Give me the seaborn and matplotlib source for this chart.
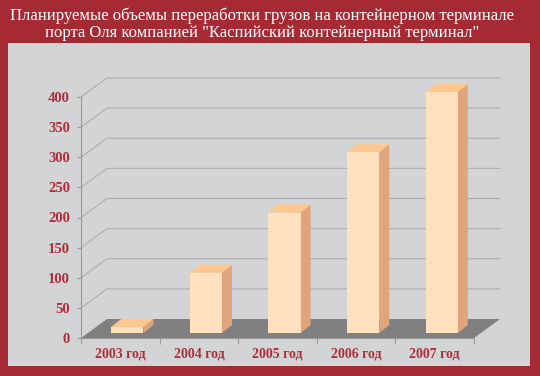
import matplotlib
matplotlib.use("Agg")
import matplotlib.pyplot as plt
import matplotlib.transforms as mtransforms
from matplotlib.patches import Polygon, Rectangle
import seaborn as sns
import pandas as pd

# данные
years = ["2003 год", "2004 год", "2005 год", "2006 год", "2007 год"]
volumes = [10, 100, 200, 300, 400]
y_ticks = [0, 50, 100, 150, 200, 250, 300, 350, 400]
title = ('Планируемые объемы переработки грузов на контейнерном терминале\n'
         'порта Оля компанией "Каспийский контейнерный терминал"')

# цвета
RED = "#A52A33"
PANEL = "#D3D4D6"
GRID = "#AEAEB0"
FLOOR = "#808080"
FRONT = "#FFE0BF"
SIDE = "#E1A47B"
TOP = "#FFC78E"
LABEL = "#AC2F3B"

sns.set_theme(style="white")
plt.rcParams["font.family"] = ["Liberation Serif", "DejaVu Serif"]

W, H, DPI = 540, 376, 100
fig = plt.figure(figsize=(W / DPI, H / DPI), dpi=DPI, facecolor=RED)
fig.patches.append(Rectangle((8 / W, 1 - 366 / H), (530 - 8) / W, (366 - 43) / H,
                             transform=fig.transFigure, facecolor=PANEL,
                             edgecolor="none", zorder=-5))

fig.text(262 / W, 1 - 24 / H, title, ha="center", va="center", color="white",
         fontsize=12.0, linespacing=1.1)

ax = fig.add_axes([81 / W, 1 - 338 / H, (474 - 81) / W, (338 - 97) / H])
ax.set_facecolor("none")
ax.set_zorder(2)

df = pd.DataFrame({"year": years, "volume": volumes})
sns.barplot(data=df, x="year", y="volume", color=FRONT, width=0.41,
            saturation=1, ax=ax, zorder=6, linewidth=0)
bars = list(ax.patches)
ax.set_xlim(-0.5, len(years) - 0.5)
ax.set_ylim(0, 400)

# размер пикселя в единицах данных
bb = ax.get_position()
xpp = len(years) / (bb.width * W)
ypp = 400 / (bb.height * H)

# глубина "пола" и столбцов (в пикселях)
DX, DY = 26, 19
BX0, BY0 = 7, 5
BDX, BDY = 10, 8

x_left, x_right = -0.5, len(years) - 0.5

# сетка на задней и левой стенках
for v in y_ticks[1:]:
    ax.plot([x_left, x_left + DX * xpp, x_right + DX * xpp],
            [v, v + DY * ypp, v + DY * ypp],
            color=GRID, lw=0.8, clip_on=False, zorder=1)

# пол
ax.add_patch(Polygon([(x_left, 0), (x_right, 0),
                      (x_right + DX * xpp, DY * ypp), (x_left + DX * xpp, DY * ypp)],
                     closed=True, facecolor=FLOOR, edgecolor="none",
                     clip_on=False, zorder=2))

# объем столбцов
off = mtransforms.ScaledTranslation(BX0 / DPI, BY0 / DPI, fig.dpi_scale_trans)
for p in bars:
    x0 = p.get_x()
    x1 = x0 + p.get_width()
    h = p.get_height()
    p.set_transform(ax.transData + off)
    p.set_clip_on(False)
    side = Polygon([(x1, 0), (x1 + BDX * xpp, BDY * ypp),
                    (x1 + BDX * xpp, h + BDY * ypp), (x1, h)],
                   closed=True, facecolor=SIDE, edgecolor="none",
                   transform=ax.transData + off, clip_on=False, zorder=5)
    top = Polygon([(x0, h), (x1, h), (x1 + BDX * xpp, h + BDY * ypp),
                   (x0 + BDX * xpp, h + BDY * ypp)],
                  closed=True, facecolor=TOP, edgecolor="none",
                  transform=ax.transData + off, clip_on=False, zorder=5)
    ax.add_patch(side)
    ax.add_patch(top)

# оси
for s in ["top", "right"]:
    ax.spines[s].set_visible(False)
for s in ["left", "bottom"]:
    ax.spines[s].set_color("#9A9A9A")
    ax.spines[s].set_linewidth(0.8)
    ax.spines[s].set_zorder(7)

ax.set_yticks(y_ticks)
ax.set_xticks(range(len(years)))
ax.set_xticklabels(years)
ax.set_xticks([i - 0.5 for i in range(len(years) + 1)], minor=True)
ax.tick_params(axis="x", which="major", length=0, pad=7,
               labelsize=10, labelcolor=LABEL)
ax.tick_params(axis="x", which="minor", length=4, width=0.8,
               color="#9A9A9A", direction="out", bottom=True)
ax.tick_params(axis="y", length=3, width=0.8, color="#9A9A9A",
               direction="out", left=True, pad=5,
               labelsize=10.5, labelcolor=LABEL)
for lbl in ax.get_xticklabels() + ax.get_yticklabels():
    lbl.set_fontweight("bold")
ax.set_xlabel("")
ax.set_ylabel("")

fig.savefig("out.png", dpi=DPI, facecolor=RED)
